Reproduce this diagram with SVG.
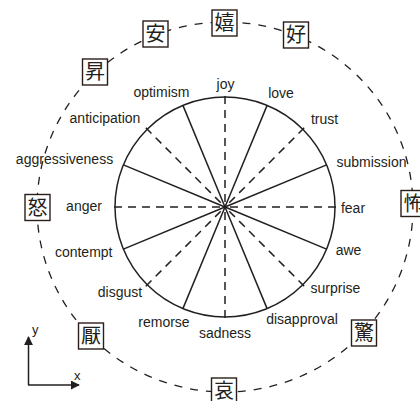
<svg xmlns="http://www.w3.org/2000/svg" width="420" height="401" viewBox="0 0 420 401">
<defs>
<style>
.lbl{font-family:"Liberation Sans",Arial,sans-serif;font-size:14px;fill:#231f20;text-anchor:middle}
.ax{font-family:"Liberation Sans",Arial,sans-serif;font-size:13px;fill:#231f20}
.kj{font-family:"Noto Sans CJK JP","Noto Sans CJK SC",sans-serif;font-size:20px;fill:#231f20;text-anchor:middle}
.box{fill:#fff;stroke:#2b1d1a;stroke-width:1.4}
.solid{stroke:#231f20;stroke-width:1.5;fill:none}
.dash{stroke:#231f20;stroke-width:1.5;fill:none;stroke-dasharray:8 6}
.outer{stroke:#231f20;stroke-width:1.3;fill:none;stroke-dasharray:8 8}
</style>
<marker id="ah" viewBox="0 0 10 10" refX="9" refY="5" markerWidth="9" markerHeight="9" markerUnits="userSpaceOnUse" orient="auto">
<path d="M0,0 L10,5 L0,10 z" fill="#231f20"/>
</marker>
</defs>
<rect width="420" height="401" fill="#fff"/>
<g id="connectors">
<ellipse class="outer" cx="225" cy="207" rx="188" ry="185"/>
<circle class="solid" cx="225" cy="207" r="110"/>
<line class="solid" x1="225" y1="207" x2="267.1" y2="105.4"/>
<line class="solid" x1="225" y1="207" x2="326.6" y2="164.9"/>
<line class="solid" x1="225" y1="207" x2="326.6" y2="249.1"/>
<line class="solid" x1="225" y1="207" x2="267.1" y2="308.6"/>
<line class="solid" x1="225" y1="207" x2="182.9" y2="308.6"/>
<line class="solid" x1="225" y1="207" x2="123.4" y2="249.1"/>
<line class="solid" x1="225" y1="207" x2="123.4" y2="164.9"/>
<line class="solid" x1="225" y1="207" x2="182.9" y2="105.4"/>
<line class="dash" x1="225" y1="96" x2="225" y2="207"/>
<line class="dash" x1="336" y1="207" x2="225" y2="207"/>
<line class="dash" x1="225" y1="318" x2="225" y2="207"/>
<line class="dash" x1="114" y1="207" x2="225" y2="207"/>
<line class="dash" x1="304.2" y1="127.8" x2="225" y2="207"/>
<line class="dash" x1="304.2" y1="286.2" x2="225" y2="207"/>
<line class="dash" x1="145.8" y1="286.2" x2="225" y2="207"/>
<line class="dash" x1="145.8" y1="127.8" x2="225" y2="207"/>
</g>
<g id="labels">
<text class="lbl" x="161.4" y="97">optimism</text>
<text class="lbl" x="225.5" y="89">joy</text>
<text class="lbl" x="281" y="98">love</text>
<text class="lbl" x="324.5" y="124">trust</text>
<text class="lbl" x="371.5" y="167">submission</text>
<text class="lbl" x="105" y="122.5">anticipation</text>
<text class="lbl" x="64.5" y="164">aggressiveness</text>
<text class="lbl" x="84" y="211">anger</text>
<text class="lbl" x="83.7" y="257">contempt</text>
<text class="lbl" x="120" y="297">disgust</text>
<text class="lbl" x="164" y="327">remorse</text>
<text class="lbl" x="225" y="338">sadness</text>
<text class="lbl" x="302" y="324">disapproval</text>
<text class="lbl" x="335.4" y="293">surprise</text>
<text class="lbl" x="348.5" y="255">awe</text>
<text class="lbl" x="353" y="213">fear</text>
</g>
<g id="n-an"><rect class="box" x="143" y="21" width="25" height="26"/><text class="kj" x="155.5" y="41">安</text></g>
<g id="n-ki"><rect class="box" x="212" y="10" width="25" height="26"/><text class="kj" x="224.5" y="30">嬉</text></g>
<g id="n-ko"><rect class="box" x="283.5" y="22" width="25" height="26"/><text class="kj" x="296" y="42">好</text></g>
<g id="n-sho"><rect class="box" x="82.5" y="59" width="25" height="26"/><text class="kj" x="95" y="79">昇</text></g>
<g id="n-do"><rect class="box" x="25" y="194.5" width="25" height="26"/><text class="kj" x="37.5" y="214.5">怒</text></g>
<g id="n-fu"><rect class="box" x="401" y="190.5" width="25" height="26"/><text class="kj" x="413.5" y="210.5">怖</text></g>
<g id="n-en"><rect class="box" x="78.5" y="323" width="25" height="26"/><text class="kj" x="91" y="343">厭</text></g>
<g id="n-kyo"><rect class="box" x="351.5" y="320" width="25" height="26"/><text class="kj" x="364" y="340">驚</text></g>
<g id="n-ai"><rect class="box" x="211.5" y="378" width="25" height="26"/><text class="kj" x="224" y="398">哀</text></g>
<g id="axes">
<line class="solid" x1="28.5" y1="385" x2="28.5" y2="337" marker-end="url(#ah)"/>
<line class="solid" x1="28" y1="385" x2="79" y2="385" marker-end="url(#ah)"/>
<text class="ax" x="32" y="334">y</text>
<text class="ax" x="74" y="380">x</text>
</g>
</svg>
